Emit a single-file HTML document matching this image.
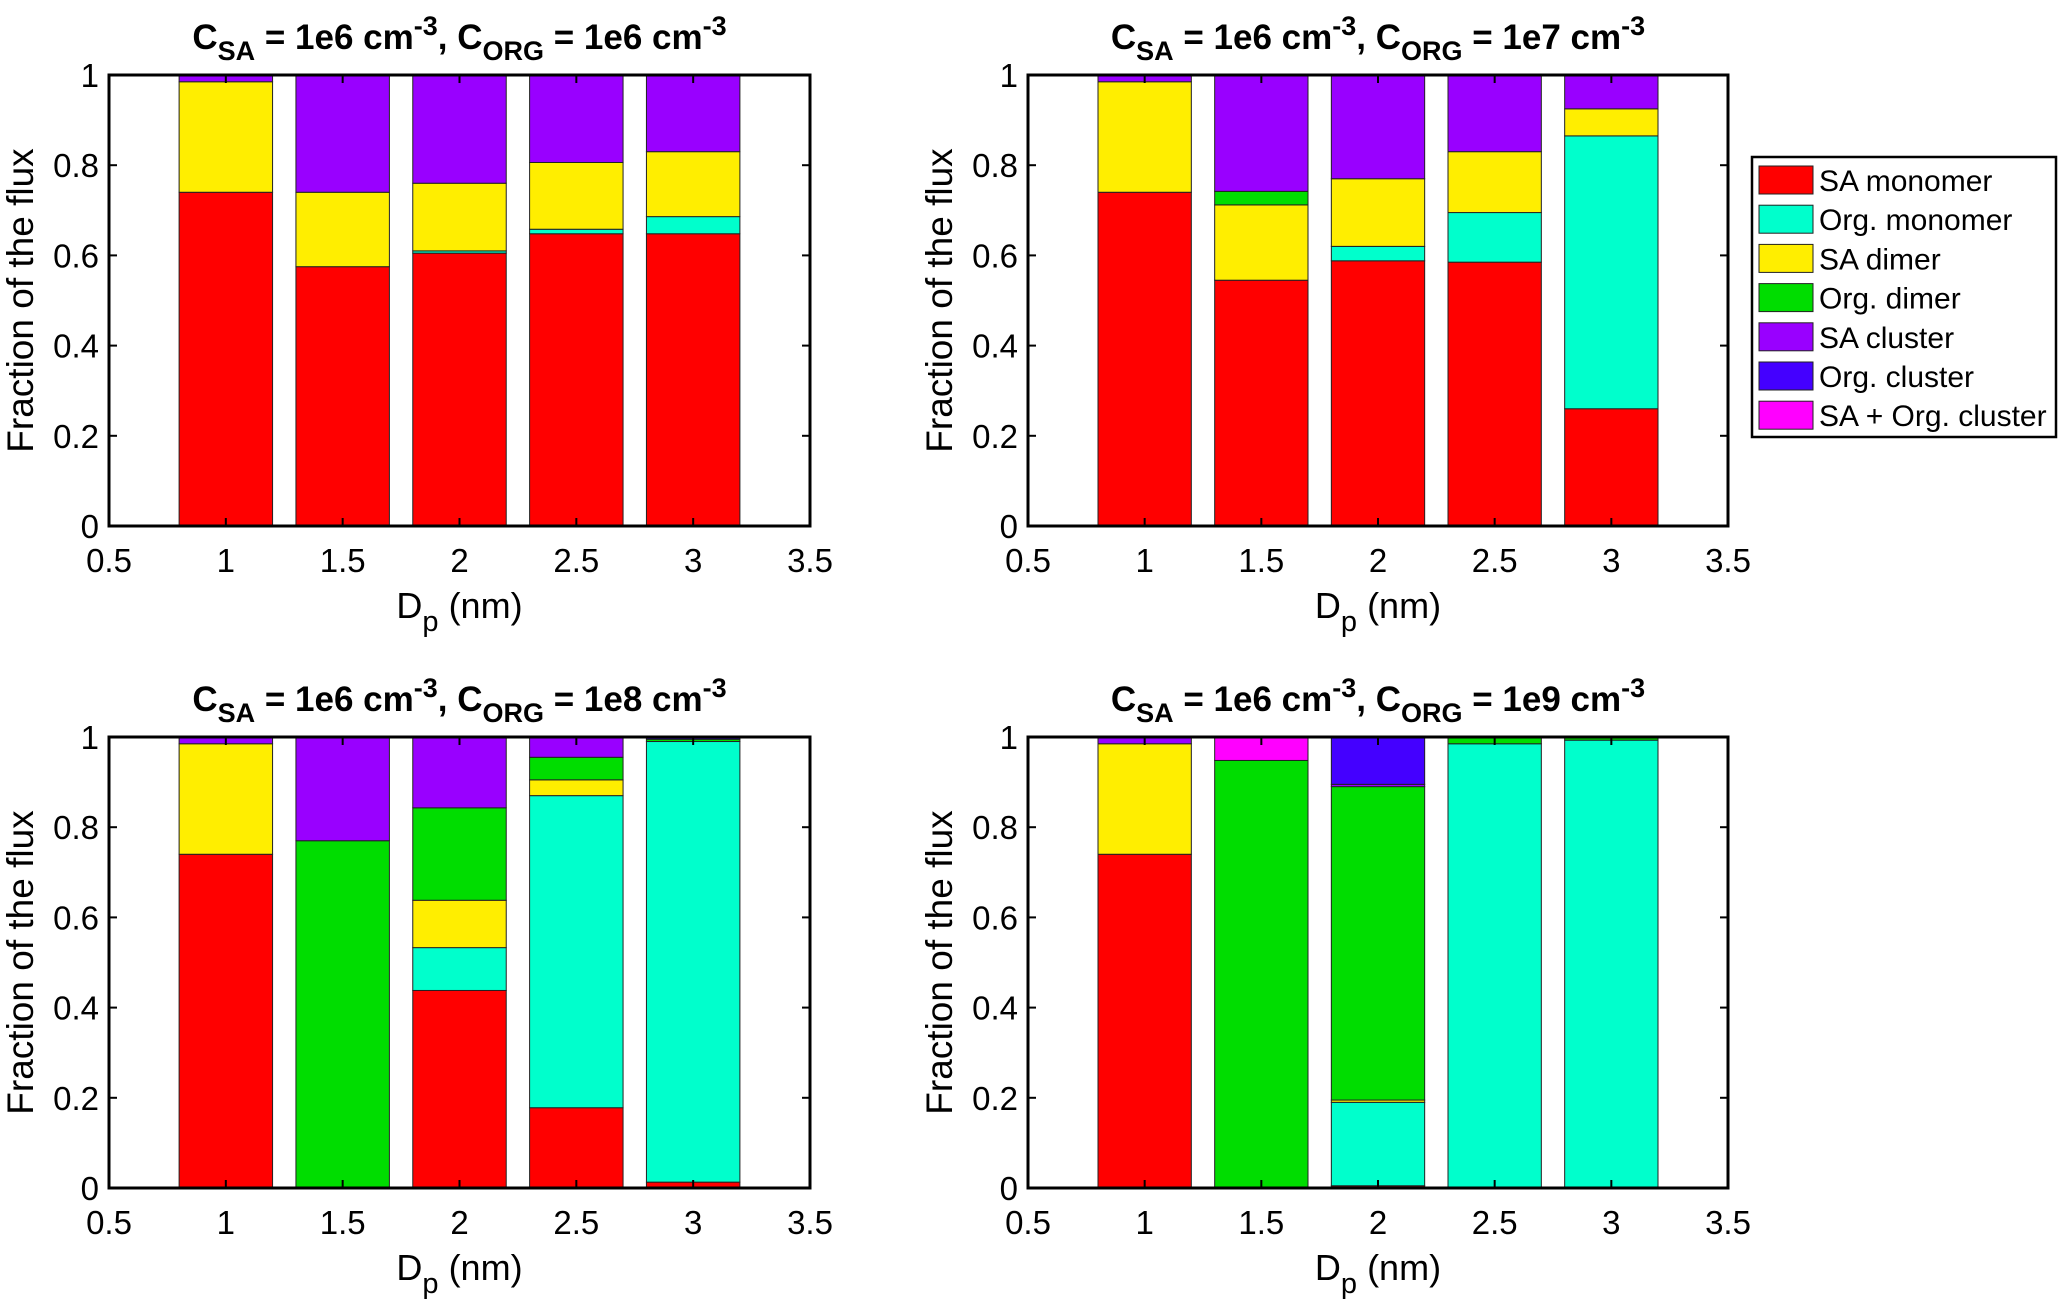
<!DOCTYPE html>
<html><head><meta charset="utf-8">
<style>
html,body{margin:0;padding:0;background:#fff;}
svg text{font-family:"Liberation Sans",Arial,sans-serif;fill:#000;}
</style></head>
<body>
<svg id="fig" width="2067" height="1310" viewBox="0 0 2067 1310" xmlns="http://www.w3.org/2000/svg"></svg>
<script>
const seriesNames = ["SA monomer","Org. monomer","SA dimer","Org. dimer","SA cluster","Org. cluster","SA + Org. cluster"];
const seriesColors = ["#ff0000","#00ffcc","#ffee00","#00dd00","#9900ff","#4400ff","#ff00ff"];
const categories = [1,1.5,2,2.5,3];
const xTicks = [0.5,1,1.5,2,2.5,3,3.5];
const xTickLabels = ["0.5","1","1.5","2","2.5","3","3.5"];
const yTicks = [0,0.2,0.4,0.6,0.8,1];
const yTickLabels = ["0","0.2","0.4","0.6","0.8","1"];
const panelOrg = ["1e6","1e7","1e8","1e9"];
const p1 = [
 [0.74,0.575,0.605,0.648,0.648],
 [0,0,0.005,0.01,0.038],
 [0.245,0.165,0.15,0.148,0.144],
 [0,0,0,0,0],
 [0.015,0.26,0.24,0.194,0.17],
 [0,0,0,0,0],
 [0,0,0,0,0]];
const p2 = [
 [0.74,0.545,0.588,0.585,0.26],
 [0,0,0.032,0.11,0.605],
 [0.245,0.167,0.15,0.135,0.06],
 [0,0.03,0,0,0],
 [0.015,0.258,0.23,0.17,0.075],
 [0,0,0,0,0],
 [0,0,0,0,0]];
const p3 = [
 [0.74,0,0.438,0.178,0.013],
 [0,0,0.095,0.692,0.977],
 [0.245,0,0.105,0.035,0],
 [0,0.77,0.205,0.05,0.005],
 [0.015,0.23,0.157,0.045,0],
 [0,0,0,0,0.005],
 [0,0,0,0,0]];
const p4 = [
 [0.74,0,0.005,0,0],
 [0,0,0.185,0.985,0.993],
 [0.245,0,0.005,0,0],
 [0,0.948,0.695,0.015,0.007],
 [0.015,0,0.005,0,0],
 [0,0,0.105,0,0],
 [0,0.052,0,0,0]];
const panels = [p1,p2,p3,p4];
const barWidth = 0.4;

const NS="http://www.w3.org/2000/svg";
const svg=document.getElementById('fig');
function mk(tag,attrs,parent){const e=document.createElementNS(NS,tag);for(const k in attrs)e.setAttribute(k,attrs[k]);(parent||svg).appendChild(e);return e;}

const boxes=[{x0:109,x1:810,y0:75,y1:526},{x0:1028,x1:1728,y0:75,y1:526},{x0:109,x1:810,y0:737,y1:1188},{x0:1028,x1:1728,y0:737,y1:1188}];

panels.forEach((data,pi)=>{
  const b=boxes[pi];
  const g=mk('g',{});
  
  
  const X=v=>b.x0+(v-0.5)/3*(b.x1-b.x0);
  const Y=v=>b.y1-v*(b.y1-b.y0);
  categories.forEach((c,ci)=>{
    let acc=0;
    data.forEach((ser,si)=>{
      const v=ser[ci]; if(v<=0) return;
      const r=mk('rect',{x:X(c-barWidth/2),y:Y(acc+v),width:X(c+barWidth/2)-X(c-barWidth/2),height:Y(acc)-Y(acc+v),fill:seriesColors[si],stroke:'#222','stroke-width':1},g);
      
      
      acc+=v;
    });
  });
  const ax=mk('rect',{x:b.x0,y:b.y0,width:b.x1-b.x0,height:b.y1-b.y0,fill:'none',stroke:'#000','stroke-width':3},g);
  
  
  xTicks.forEach((t,i)=>{
    mk('line',{x1:X(t),x2:X(t),y1:b.y1,y2:b.y1-8,stroke:'#000','stroke-width':2},g);
    mk('line',{x1:X(t),x2:X(t),y1:b.y0,y2:b.y0+8,stroke:'#000','stroke-width':2},g);
    const tx=mk('text',{x:X(t),y:b.y1+46,'font-size':33,'text-anchor':'middle'},g);
    tx.textContent=xTickLabels[i];
    
    
  });
  yTicks.forEach((t,i)=>{
    mk('line',{x1:b.x0,x2:b.x0+8,y1:Y(t),y2:Y(t),stroke:'#000','stroke-width':2},g);
    mk('line',{x1:b.x1,x2:b.x1-8,y1:Y(t),y2:Y(t),stroke:'#000','stroke-width':2},g);
    const ty=mk('text',{x:b.x0-10,y:Y(t)+12,'font-size':33,'text-anchor':'end'},g);
    ty.textContent=yTickLabels[i];
    
    
  });
  const xl=mk('text',{x:(b.x0+b.x1)/2,y:b.y1+92,'font-size':36,'text-anchor':'middle'},g);
  xl.innerHTML='D<tspan dy="13" font-size="29">p</tspan><tspan dy="-13"> (nm)</tspan>';
  
  
  const yl=mk('text',{x:0,y:0,'font-size':37,'text-anchor':'middle',transform:`translate(${b.x0-76},${(b.y0+b.y1)/2}) rotate(-90)`},g);
  yl.textContent='Fraction of the flux';
  
  
  const ti=mk('text',{x:(b.x0+b.x1)/2,y:b.y0-26,'font-size':35,'font-weight':'bold','text-anchor':'middle'},g);
  ti.innerHTML='C<tspan dy="11" font-size="27">SA</tspan><tspan dy="-11"> = 1e6 cm</tspan><tspan dy="-14" font-size="27">-3</tspan><tspan dy="14">, C</tspan><tspan dy="11" font-size="27">ORG</tspan><tspan dy="-11"> = '+panelOrg[pi]+' cm</tspan><tspan dy="-14" font-size="27">-3</tspan>';
  
  
});

const lg=mk('g',{});


mk('rect',{x:1752,y:157,width:304,height:280,fill:'#fff',stroke:'#000','stroke-width':2.5},lg);
seriesNames.forEach((n,i)=>{
  const y=166+i*39.2;
  const sw=mk('rect',{x:1759,y:y,width:54,height:28,fill:seriesColors[i],stroke:'#222','stroke-width':1},lg);
  
  
  const t=mk('text',{x:1819,y:y+25,'font-size':30},lg);
  t.textContent=n;
  
  
});
</script>
</body></html>
